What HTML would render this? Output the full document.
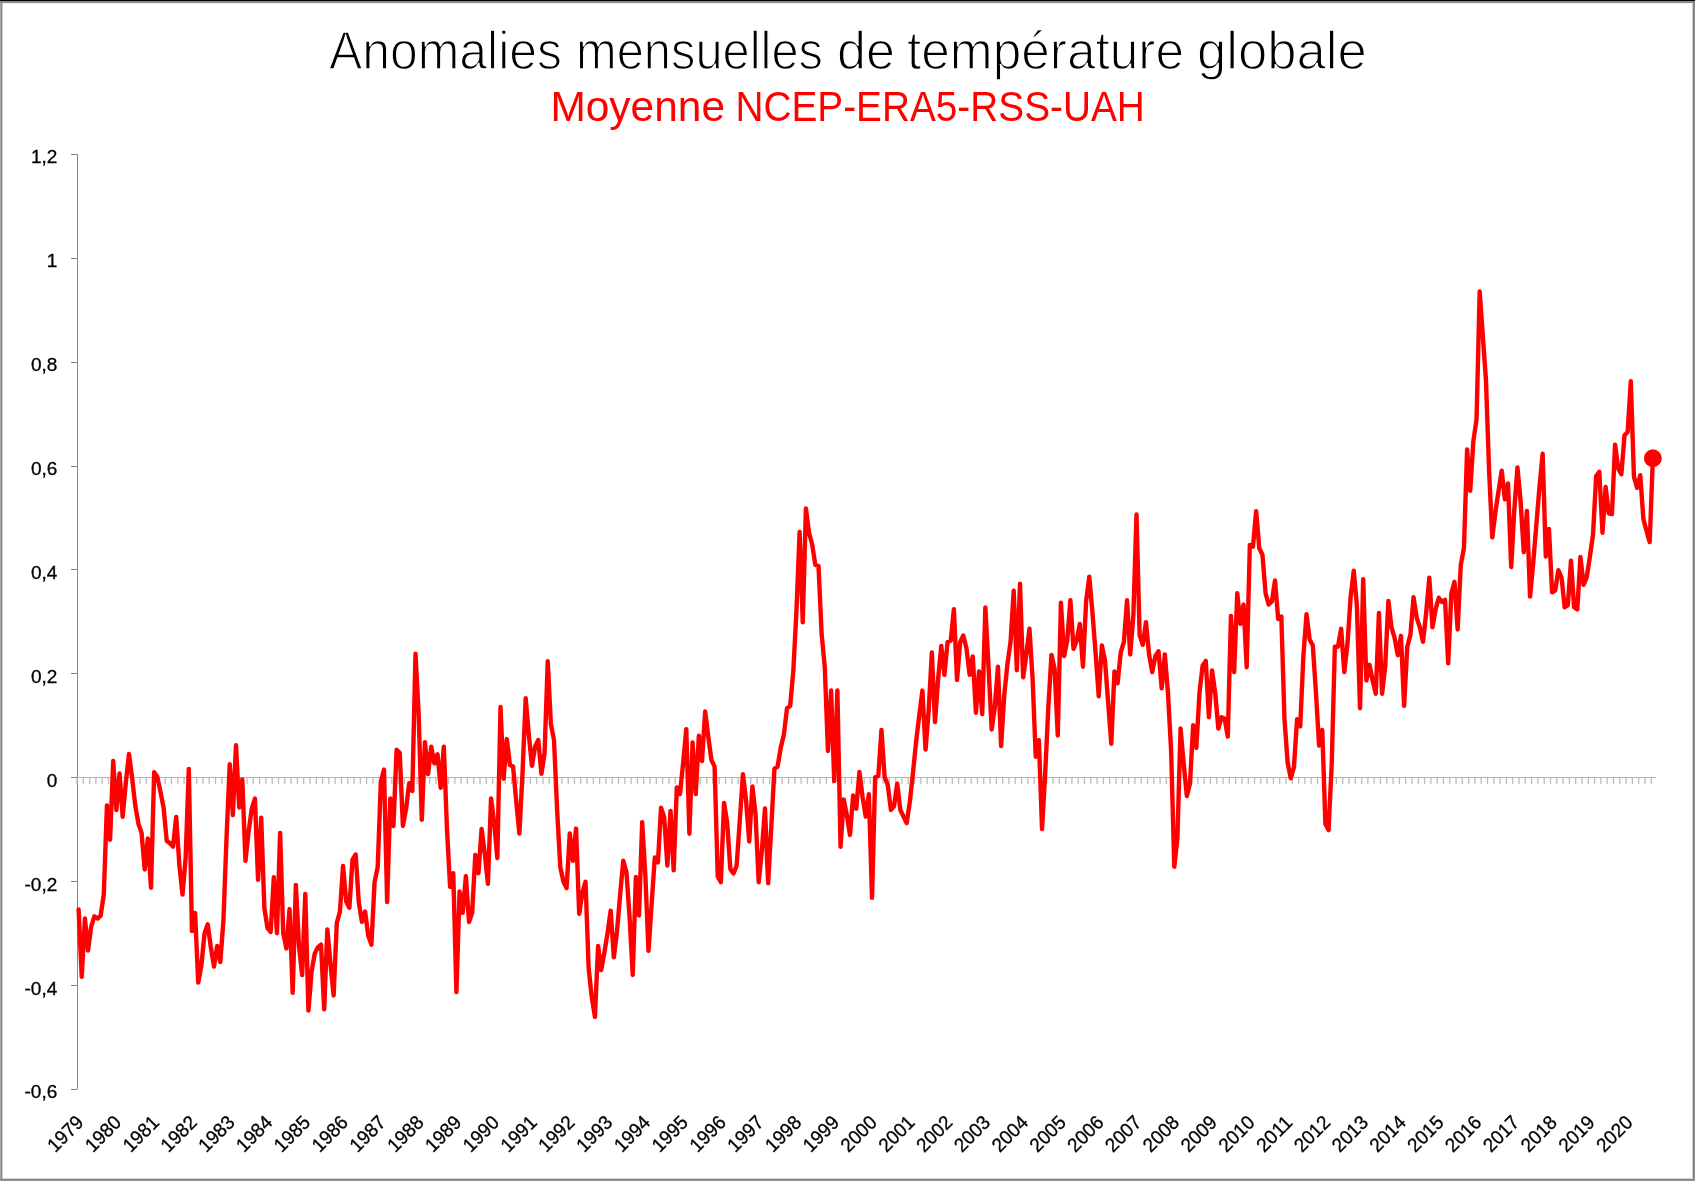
<!DOCTYPE html>
<html><head><meta charset="utf-8">
<style>
html,body{margin:0;padding:0;background:#fff;}
body{width:1695px;height:1181px;overflow:hidden;position:relative;}
svg{position:absolute;left:0;top:0;will-change:transform;}
text{font-family:"Liberation Sans",sans-serif;}
</style></head><body>
<svg width="1695" height="1181" viewBox="0 0 1695 1181">
<rect x="0" y="0" width="1695" height="1181" fill="#fff"/>
<rect x="0" y="0" width="1695" height="1" fill="#000"/>
<rect x="0" y="1" width="1" height="1180" fill="#a3a3a3"/>
<rect x="1" y="1" width="1" height="1180" fill="#888"/>
<rect x="0" y="1" width="1695" height="1" fill="#909090"/>
<rect x="0" y="2" width="1695" height="1" fill="#888"/>
<rect x="1693" y="1" width="1" height="1180" fill="#848484"/>
<rect x="1694" y="1" width="1" height="1180" fill="#8c8c8c"/>
<rect x="0" y="1179" width="1695" height="1" fill="#888"/>
<rect x="0" y="1180" width="1695" height="1" fill="#939393"/>
<rect x="2" y="3" width="1" height="1175" fill="#cfcfcf"/>
<rect x="3" y="3" width="1689" height="1" fill="#f3f3f3"/>
<rect x="1692" y="3" width="1" height="1175" fill="#cfcfcf"/>
<rect x="2" y="1178" width="1691" height="1" fill="#cfcfcf"/>
<text x="329.00" y="69.15" font-size="53" fill="#000" textLength="233.00" lengthAdjust="spacingAndGlyphs" stroke="#fff" stroke-width="1.4">Anomalies</text>
<text x="576.00" y="69.15" font-size="53" fill="#000" textLength="247.00" lengthAdjust="spacingAndGlyphs" stroke="#fff" stroke-width="1.4">mensuelles</text>
<text x="837.00" y="69.15" font-size="53" fill="#000" textLength="58.00" lengthAdjust="spacingAndGlyphs" stroke="#fff" stroke-width="1.4">de</text>
<text x="907.00" y="69.15" font-size="53" fill="#000" textLength="277.00" lengthAdjust="spacingAndGlyphs" stroke="#fff" stroke-width="1.4">température</text>
<text x="1197.00" y="69.15" font-size="53" fill="#000" textLength="169.80" lengthAdjust="spacingAndGlyphs" stroke="#fff" stroke-width="1.4">globale</text>
<text x="550.40" y="120.6" font-size="43.2" fill="#ff0000" textLength="174.60" lengthAdjust="spacingAndGlyphs">Moyenne</text>
<text x="735.40" y="120.6" font-size="43.2" fill="#ff0000" textLength="409.40" lengthAdjust="spacingAndGlyphs">NCEP-ERA5-RSS-UAH</text>
<g stroke="#868686" stroke-width="1" fill="none">
<path d="M77.5 154V1089.5"/>
<path d="M71 154.0H77M71 258.0H77M71 362.0H77M71 466.0H77M71 569.0H77M71 673.0H77M71 777.0H77M71 881.0H77M71 985.0H77M71 1089.0H77" transform="translate(0,0.5)"/>
</g>
<g font-size="19" fill="#000" text-anchor="end" stroke="#000" stroke-width="0.3">
<text x="57.3" y="163.4">1,2</text><text x="57.3" y="267.3">1</text><text x="57.3" y="371.2">0,8</text><text x="57.3" y="475.1">0,6</text><text x="57.3" y="578.9">0,4</text><text x="57.3" y="682.8">0,2</text><text x="57.3" y="786.7">0</text><text x="57.3" y="890.6">-0,2</text><text x="57.3" y="994.5">-0,4</text><text x="57.3" y="1098.3">-0,6</text>
</g>
<line x1="77" y1="777.5" x2="1656" y2="777.5" stroke="#b4b4b4" stroke-width="1"/>
<path d="M77.00 778V784M83.30 778V784M89.59 778V784M95.89 778V784M102.19 778V784M108.48 778V784M114.78 778V784M121.08 778V784M127.38 778V784M133.67 778V784M139.97 778V784M146.27 778V784M152.56 778V784M158.86 778V784M165.16 778V784M171.45 778V784M177.75 778V784M184.05 778V784M190.35 778V784M196.64 778V784M202.94 778V784M209.24 778V784M215.53 778V784M221.83 778V784M228.13 778V784M234.42 778V784M240.72 778V784M247.02 778V784M253.32 778V784M259.61 778V784M265.91 778V784M272.21 778V784M278.50 778V784M284.80 778V784M291.10 778V784M297.39 778V784M303.69 778V784M309.99 778V784M316.29 778V784M322.58 778V784M328.88 778V784M335.18 778V784M341.47 778V784M347.77 778V784M354.07 778V784M360.37 778V784M366.66 778V784M372.96 778V784M379.26 778V784M385.55 778V784M391.85 778V784M398.15 778V784M404.44 778V784M410.74 778V784M417.04 778V784M423.33 778V784M429.63 778V784M435.93 778V784M442.23 778V784M448.52 778V784M454.82 778V784M461.12 778V784M467.41 778V784M473.71 778V784M480.01 778V784M486.31 778V784M492.60 778V784M498.90 778V784M505.20 778V784M511.49 778V784M517.79 778V784M524.09 778V784M530.38 778V784M536.68 778V784M542.98 778V784M549.27 778V784M555.57 778V784M561.87 778V784M568.17 778V784M574.46 778V784M580.76 778V784M587.06 778V784M593.35 778V784M599.65 778V784M605.95 778V784M612.25 778V784M618.54 778V784M624.84 778V784M631.14 778V784M637.43 778V784M643.73 778V784M650.03 778V784M656.32 778V784M662.62 778V784M668.92 778V784M675.21 778V784M681.51 778V784M687.81 778V784M694.11 778V784M700.40 778V784M706.70 778V784M713.00 778V784M719.29 778V784M725.59 778V784M731.89 778V784M738.18 778V784M744.48 778V784M750.78 778V784M757.08 778V784M763.37 778V784M769.67 778V784M775.97 778V784M782.26 778V784M788.56 778V784M794.86 778V784M801.15 778V784M807.45 778V784M813.75 778V784M820.05 778V784M826.34 778V784M832.64 778V784M838.94 778V784M845.23 778V784M851.53 778V784M857.83 778V784M864.12 778V784M870.42 778V784M876.72 778V784M883.02 778V784M889.31 778V784M895.61 778V784M901.91 778V784M908.20 778V784M914.50 778V784M920.80 778V784M927.09 778V784M933.39 778V784M939.69 778V784M945.99 778V784M952.28 778V784M958.58 778V784M964.88 778V784M971.17 778V784M977.47 778V784M983.77 778V784M990.06 778V784M996.36 778V784M1002.66 778V784M1008.96 778V784M1015.25 778V784M1021.55 778V784M1027.85 778V784M1034.14 778V784M1040.44 778V784M1046.74 778V784M1053.03 778V784M1059.33 778V784M1065.63 778V784M1071.93 778V784M1078.22 778V784M1084.52 778V784M1090.82 778V784M1097.11 778V784M1103.41 778V784M1109.71 778V784M1116.00 778V784M1122.30 778V784M1128.60 778V784M1134.90 778V784M1141.19 778V784M1147.49 778V784M1153.79 778V784M1160.08 778V784M1166.38 778V784M1172.68 778V784M1178.97 778V784M1185.27 778V784M1191.57 778V784M1197.87 778V784M1204.16 778V784M1210.46 778V784M1216.76 778V784M1223.05 778V784M1229.35 778V784M1235.65 778V784M1241.94 778V784M1248.24 778V784M1254.54 778V784M1260.84 778V784M1267.13 778V784M1273.43 778V784M1279.73 778V784M1286.02 778V784M1292.32 778V784M1298.62 778V784M1304.91 778V784M1311.21 778V784M1317.51 778V784M1323.81 778V784M1330.10 778V784M1336.40 778V784M1342.70 778V784M1348.99 778V784M1355.29 778V784M1361.59 778V784M1367.88 778V784M1374.18 778V784M1380.48 778V784M1386.78 778V784M1393.07 778V784M1399.37 778V784M1405.67 778V784M1411.96 778V784M1418.26 778V784M1424.56 778V784M1430.86 778V784M1437.15 778V784M1443.45 778V784M1449.75 778V784M1456.04 778V784M1462.34 778V784M1468.64 778V784M1474.93 778V784M1481.23 778V784M1487.53 778V784M1493.83 778V784M1500.12 778V784M1506.42 778V784M1512.72 778V784M1519.01 778V784M1525.31 778V784M1531.61 778V784M1537.90 778V784M1544.20 778V784M1550.50 778V784M1556.79 778V784M1563.09 778V784M1569.39 778V784M1575.69 778V784M1581.98 778V784M1588.28 778V784M1594.58 778V784M1600.87 778V784M1607.17 778V784M1613.47 778V784M1619.76 778V784M1626.06 778V784M1632.36 778V784M1638.66 778V784M1644.95 778V784M1651.25 778V784" stroke="#bdbdbd" stroke-width="1.3" fill="none"/>
<g font-size="19.5" fill="#000" text-anchor="end" stroke="#000" stroke-width="0.3">
<text transform="translate(78.60,1120.30) rotate(-45)" x="2.0" y="6.66" textLength="41.8" lengthAdjust="spacingAndGlyphs">1979</text><text transform="translate(116.38,1120.30) rotate(-45)" x="2.0" y="6.66" textLength="41.8" lengthAdjust="spacingAndGlyphs">1980</text><text transform="translate(154.16,1120.30) rotate(-45)" x="2.0" y="6.66" textLength="41.8" lengthAdjust="spacingAndGlyphs">1981</text><text transform="translate(191.95,1120.30) rotate(-45)" x="2.0" y="6.66" textLength="41.8" lengthAdjust="spacingAndGlyphs">1982</text><text transform="translate(229.73,1120.30) rotate(-45)" x="2.0" y="6.66" textLength="41.8" lengthAdjust="spacingAndGlyphs">1983</text><text transform="translate(267.51,1120.30) rotate(-45)" x="2.0" y="6.66" textLength="41.8" lengthAdjust="spacingAndGlyphs">1984</text><text transform="translate(305.29,1120.30) rotate(-45)" x="2.0" y="6.66" textLength="41.8" lengthAdjust="spacingAndGlyphs">1985</text><text transform="translate(343.07,1120.30) rotate(-45)" x="2.0" y="6.66" textLength="41.8" lengthAdjust="spacingAndGlyphs">1986</text><text transform="translate(380.86,1120.30) rotate(-45)" x="2.0" y="6.66" textLength="41.8" lengthAdjust="spacingAndGlyphs">1987</text><text transform="translate(418.64,1120.30) rotate(-45)" x="2.0" y="6.66" textLength="41.8" lengthAdjust="spacingAndGlyphs">1988</text><text transform="translate(456.42,1120.30) rotate(-45)" x="2.0" y="6.66" textLength="41.8" lengthAdjust="spacingAndGlyphs">1989</text><text transform="translate(494.20,1120.30) rotate(-45)" x="2.0" y="6.66" textLength="41.8" lengthAdjust="spacingAndGlyphs">1990</text><text transform="translate(531.98,1120.30) rotate(-45)" x="2.0" y="6.66" textLength="41.8" lengthAdjust="spacingAndGlyphs">1991</text><text transform="translate(569.77,1120.30) rotate(-45)" x="2.0" y="6.66" textLength="41.8" lengthAdjust="spacingAndGlyphs">1992</text><text transform="translate(607.55,1120.30) rotate(-45)" x="2.0" y="6.66" textLength="41.8" lengthAdjust="spacingAndGlyphs">1993</text><text transform="translate(645.33,1120.30) rotate(-45)" x="2.0" y="6.66" textLength="41.8" lengthAdjust="spacingAndGlyphs">1994</text><text transform="translate(683.11,1120.30) rotate(-45)" x="2.0" y="6.66" textLength="41.8" lengthAdjust="spacingAndGlyphs">1995</text><text transform="translate(720.89,1120.30) rotate(-45)" x="2.0" y="6.66" textLength="41.8" lengthAdjust="spacingAndGlyphs">1996</text><text transform="translate(758.68,1120.30) rotate(-45)" x="2.0" y="6.66" textLength="41.8" lengthAdjust="spacingAndGlyphs">1997</text><text transform="translate(796.46,1120.30) rotate(-45)" x="2.0" y="6.66" textLength="41.8" lengthAdjust="spacingAndGlyphs">1998</text><text transform="translate(834.24,1120.30) rotate(-45)" x="2.0" y="6.66" textLength="41.8" lengthAdjust="spacingAndGlyphs">1999</text><text transform="translate(872.02,1120.30) rotate(-45)" x="2.0" y="6.66" textLength="41.8" lengthAdjust="spacingAndGlyphs">2000</text><text transform="translate(909.80,1120.30) rotate(-45)" x="2.0" y="6.66" textLength="41.8" lengthAdjust="spacingAndGlyphs">2001</text><text transform="translate(947.59,1120.30) rotate(-45)" x="2.0" y="6.66" textLength="41.8" lengthAdjust="spacingAndGlyphs">2002</text><text transform="translate(985.37,1120.30) rotate(-45)" x="2.0" y="6.66" textLength="41.8" lengthAdjust="spacingAndGlyphs">2003</text><text transform="translate(1023.15,1120.30) rotate(-45)" x="2.0" y="6.66" textLength="41.8" lengthAdjust="spacingAndGlyphs">2004</text><text transform="translate(1060.93,1120.30) rotate(-45)" x="2.0" y="6.66" textLength="41.8" lengthAdjust="spacingAndGlyphs">2005</text><text transform="translate(1098.71,1120.30) rotate(-45)" x="2.0" y="6.66" textLength="41.8" lengthAdjust="spacingAndGlyphs">2006</text><text transform="translate(1136.50,1120.30) rotate(-45)" x="2.0" y="6.66" textLength="41.8" lengthAdjust="spacingAndGlyphs">2007</text><text transform="translate(1174.28,1120.30) rotate(-45)" x="2.0" y="6.66" textLength="41.8" lengthAdjust="spacingAndGlyphs">2008</text><text transform="translate(1212.06,1120.30) rotate(-45)" x="2.0" y="6.66" textLength="41.8" lengthAdjust="spacingAndGlyphs">2009</text><text transform="translate(1249.84,1120.30) rotate(-45)" x="2.0" y="6.66" textLength="41.8" lengthAdjust="spacingAndGlyphs">2010</text><text transform="translate(1287.62,1120.30) rotate(-45)" x="2.0" y="6.66" textLength="41.8" lengthAdjust="spacingAndGlyphs">2011</text><text transform="translate(1325.41,1120.30) rotate(-45)" x="2.0" y="6.66" textLength="41.8" lengthAdjust="spacingAndGlyphs">2012</text><text transform="translate(1363.19,1120.30) rotate(-45)" x="2.0" y="6.66" textLength="41.8" lengthAdjust="spacingAndGlyphs">2013</text><text transform="translate(1400.97,1120.30) rotate(-45)" x="2.0" y="6.66" textLength="41.8" lengthAdjust="spacingAndGlyphs">2014</text><text transform="translate(1438.75,1120.30) rotate(-45)" x="2.0" y="6.66" textLength="41.8" lengthAdjust="spacingAndGlyphs">2015</text><text transform="translate(1476.53,1120.30) rotate(-45)" x="2.0" y="6.66" textLength="41.8" lengthAdjust="spacingAndGlyphs">2016</text><text transform="translate(1514.32,1120.30) rotate(-45)" x="2.0" y="6.66" textLength="41.8" lengthAdjust="spacingAndGlyphs">2017</text><text transform="translate(1552.10,1120.30) rotate(-45)" x="2.0" y="6.66" textLength="41.8" lengthAdjust="spacingAndGlyphs">2018</text><text transform="translate(1589.88,1120.30) rotate(-45)" x="2.0" y="6.66" textLength="41.8" lengthAdjust="spacingAndGlyphs">2019</text><text transform="translate(1627.66,1120.30) rotate(-45)" x="2.0" y="6.66" textLength="41.8" lengthAdjust="spacingAndGlyphs">2020</text>
</g>
<polyline points="78.60,909.43 81.75,976.86 84.90,918.57 88.05,950.57 91.19,926.57 94.34,916.29 97.49,918.57 100.64,915.60 103.79,894.57 106.94,805.43 110.08,839.71 113.23,760.86 116.38,810.00 119.53,773.43 122.68,816.86 125.83,782.57 128.98,754.00 132.12,778.00 135.27,805.43 138.42,823.71 141.57,832.86 144.72,869.43 147.87,838.57 151.02,887.71 154.16,772.29 157.31,776.86 160.46,791.71 163.61,807.71 166.76,840.86 169.91,843.14 173.06,846.57 176.20,816.86 179.35,864.86 182.50,894.57 185.65,858.00 188.80,768.86 191.95,931.14 195.09,912.86 198.24,982.57 201.39,965.43 204.54,933.43 207.69,924.29 210.84,947.14 213.99,966.57 217.13,946.00 220.28,962.00 223.43,920.50 226.58,836.68 229.73,764.29 232.88,815.09 236.02,745.24 239.17,807.47 242.32,779.53 245.47,860.81 248.62,831.60 251.77,808.74 254.92,798.58 258.06,879.86 261.21,817.63 264.36,907.80 267.51,928.12 270.66,931.93 273.81,877.32 276.96,933.20 280.10,832.87 283.25,933.20 286.40,948.44 289.55,909.07 292.70,992.89 295.85,884.94 299.00,945.90 302.14,975.11 305.29,893.83 308.44,1010.67 311.59,971.30 314.74,953.52 317.89,947.17 321.03,944.63 324.18,1009.40 327.33,929.39 330.48,963.68 333.63,995.43 336.78,923.04 339.93,911.61 343.07,865.89 346.22,901.45 349.37,907.80 352.52,859.54 355.67,854.46 358.82,902.72 361.97,921.77 365.11,911.61 368.26,935.74 371.41,944.63 374.56,882.40 377.71,867.16 380.86,781.74 384.00,769.55 387.15,902.15 390.30,798.51 393.45,825.94 396.60,749.74 399.75,752.78 402.90,825.94 406.04,809.18 409.19,783.27 412.34,790.89 415.49,653.72 418.64,713.16 421.79,819.85 424.93,742.12 428.08,774.12 431.23,746.69 434.38,763.45 437.53,754.31 440.68,787.84 443.83,746.69 446.97,828.99 450.12,886.91 453.27,873.19 456.42,992.07 459.57,891.48 462.72,912.82 465.87,876.24 469.01,921.96 472.16,912.82 475.31,854.90 478.46,873.19 481.61,828.99 484.76,853.38 487.90,883.86 491.05,798.51 494.20,822.89 497.35,857.95 500.50,707.06 503.65,778.69 506.80,739.07 509.94,764.98 513.09,766.50 516.24,801.56 519.39,833.56 522.54,772.60 525.69,698.26 528.84,735.26 531.98,765.83 535.13,746.53 538.28,740.09 541.43,773.87 544.58,752.96 547.73,661.26 550.88,724.00 554.02,740.09 557.17,810.88 560.32,867.18 563.47,881.66 566.62,888.10 569.77,833.40 572.91,860.75 576.06,828.57 579.21,913.84 582.36,892.92 585.51,881.66 588.66,968.53 591.81,997.49 594.95,1016.80 598.10,946.01 601.25,970.14 604.40,952.45 607.55,933.14 610.70,910.62 613.85,957.27 616.99,931.53 620.14,894.53 623.29,860.75 626.44,872.01 629.59,917.05 632.74,974.97 635.88,876.83 639.03,915.44 642.18,822.14 645.33,875.23 648.48,950.84 651.63,904.18 654.78,857.53 657.92,862.36 661.07,807.66 664.22,817.31 667.37,865.57 670.52,810.88 673.67,870.40 676.81,787.51 679.96,794.12 683.11,763.29 686.26,729.17 689.41,833.75 692.56,742.38 695.71,794.12 698.85,735.77 702.00,761.09 705.15,711.55 708.30,736.87 711.45,759.99 714.60,766.60 717.75,876.68 720.89,882.18 724.04,802.92 727.19,822.74 730.34,868.97 733.49,873.38 736.64,865.67 739.78,820.54 742.93,774.30 746.08,800.72 749.23,841.45 752.38,786.41 755.53,813.93 758.68,882.18 761.82,851.36 764.97,808.43 768.12,883.28 771.27,827.14 774.42,768.80 777.57,766.60 780.72,747.88 783.86,734.67 787.01,708.25 790.16,706.05 793.31,671.11 796.46,610.74 799.61,531.87 802.75,622.42 805.90,508.50 809.05,532.84 812.20,544.53 815.35,564.98 818.50,565.95 821.65,634.11 824.79,667.22 827.94,750.93 831.09,690.56 834.24,781.12 837.39,690.56 840.54,846.74 843.69,799.49 846.83,815.24 849.98,834.93 853.13,795.55 856.28,808.68 859.43,771.93 862.58,796.87 865.73,816.55 868.87,794.24 872.02,897.92 875.17,777.18 878.32,775.87 881.47,729.93 884.62,777.18 887.76,785.05 890.91,809.99 894.06,806.05 897.21,783.74 900.36,809.99 903.51,816.55 906.66,823.11 909.80,802.12 912.95,773.24 916.10,741.74 919.25,715.49 922.40,690.56 925.55,749.62 928.69,710.24 931.84,652.50 934.99,722.06 938.14,678.75 941.29,645.94 944.44,674.81 947.59,642.00 950.73,640.69 953.88,609.19 957.03,680.06 960.18,642.00 963.33,635.44 966.48,648.56 969.63,674.81 972.77,656.43 975.92,712.92 979.07,671.43 982.22,714.11 985.37,607.42 988.52,666.69 991.66,729.52 994.81,706.99 997.96,666.69 1001.11,746.11 1004.26,695.14 1007.41,664.32 1010.56,641.79 1013.70,590.82 1016.85,670.24 1020.00,583.71 1023.15,677.36 1026.30,654.83 1029.45,628.75 1032.60,678.54 1035.74,756.78 1038.89,740.18 1042.04,829.09 1045.19,773.38 1048.34,706.99 1051.49,654.83 1054.63,669.06 1057.78,735.44 1060.93,602.68 1064.08,656.02 1067.23,640.61 1070.38,600.30 1073.53,648.91 1076.67,640.61 1079.82,624.01 1082.97,666.69 1086.12,601.49 1089.27,576.60 1092.42,612.16 1095.57,652.46 1098.71,696.32 1101.86,645.35 1105.01,660.76 1108.16,702.25 1111.31,743.74 1114.46,671.43 1117.60,683.28 1120.75,652.46 1123.90,641.79 1127.05,600.30 1130.20,654.44 1133.35,615.83 1136.50,514.48 1139.64,635.14 1142.79,644.79 1145.94,622.27 1149.09,654.44 1152.24,672.14 1155.39,656.05 1158.54,651.22 1161.68,688.22 1164.83,654.44 1167.98,693.05 1171.13,750.97 1174.28,866.80 1177.43,837.84 1180.57,728.44 1183.72,763.84 1186.87,796.01 1190.02,783.14 1193.17,725.23 1196.32,747.75 1199.47,693.05 1202.61,665.70 1205.76,660.88 1208.91,717.18 1212.06,670.53 1215.21,693.05 1218.36,728.44 1221.51,717.18 1224.65,718.79 1227.80,736.49 1230.95,615.83 1234.10,672.14 1237.25,593.31 1240.40,623.87 1243.54,604.57 1246.69,667.31 1249.84,545.05 1252.99,546.65 1256.14,511.26 1259.29,548.26 1262.44,554.70 1265.58,593.31 1268.73,604.57 1271.88,601.35 1275.03,580.44 1278.18,619.05 1281.33,616.54 1284.48,719.10 1287.62,762.53 1290.77,778.22 1293.92,767.36 1297.07,719.10 1300.22,726.34 1303.37,656.35 1306.51,614.12 1309.66,639.46 1312.81,645.49 1315.96,692.55 1319.11,745.64 1322.26,729.96 1325.41,824.07 1328.55,830.10 1331.70,764.95 1334.85,646.70 1338.00,646.70 1341.15,628.60 1344.30,672.04 1347.45,644.29 1350.59,597.23 1353.74,570.69 1356.89,605.68 1360.04,708.24 1363.19,579.13 1366.34,680.49 1369.48,664.80 1372.63,680.49 1375.78,693.76 1378.93,612.92 1382.08,693.76 1385.23,666.01 1388.38,600.85 1391.52,627.40 1394.67,638.25 1397.82,655.15 1400.97,635.84 1404.12,705.82 1407.27,646.70 1410.42,634.64 1413.56,597.23 1416.71,617.74 1419.86,627.40 1423.01,641.87 1426.16,612.92 1429.31,577.60 1432.45,627.34 1435.60,609.35 1438.75,597.71 1441.90,601.94 1445.05,599.82 1448.20,663.33 1451.35,593.47 1454.49,581.83 1457.64,629.46 1460.79,564.89 1463.94,547.96 1467.09,449.53 1470.24,490.80 1473.39,440.70 1476.53,419.37 1479.68,291.34 1482.83,335.79 1485.98,380.25 1489.13,471.75 1492.28,537.38 1495.42,511.97 1498.57,490.80 1501.72,470.69 1504.87,499.27 1508.02,483.40 1511.17,567.01 1514.32,509.86 1517.46,467.52 1520.61,501.39 1523.76,552.19 1526.91,510.91 1530.06,596.65 1533.21,562.78 1536.36,524.67 1539.50,486.57 1542.65,453.76 1545.80,556.43 1548.95,528.91 1552.10,592.41 1555.25,590.30 1558.39,570.19 1561.54,577.60 1564.69,607.23 1567.84,605.11 1570.99,560.66 1574.14,607.23 1577.29,609.35 1580.43,556.90 1583.58,584.76 1586.73,577.05 1589.88,556.90 1593.03,534.43 1596.18,476.00 1599.33,471.77 1602.47,532.73 1605.62,487.01 1608.77,513.26 1611.92,514.11 1615.07,444.67 1618.22,468.38 1621.36,474.31 1624.51,435.36 1627.66,431.97 1630.81,381.17 1633.96,476.85 1637.11,487.86 1640.26,475.16 1643.40,519.19 1646.55,531.04 1649.70,542.05 1652.85,458.22" fill="none" stroke="#ff0000" stroke-width="4.4" stroke-linejoin="round" stroke-linecap="round"/>
<circle cx="1652.85" cy="458.22" r="8.9" fill="#ff0000"/>
</svg>
</body></html>
